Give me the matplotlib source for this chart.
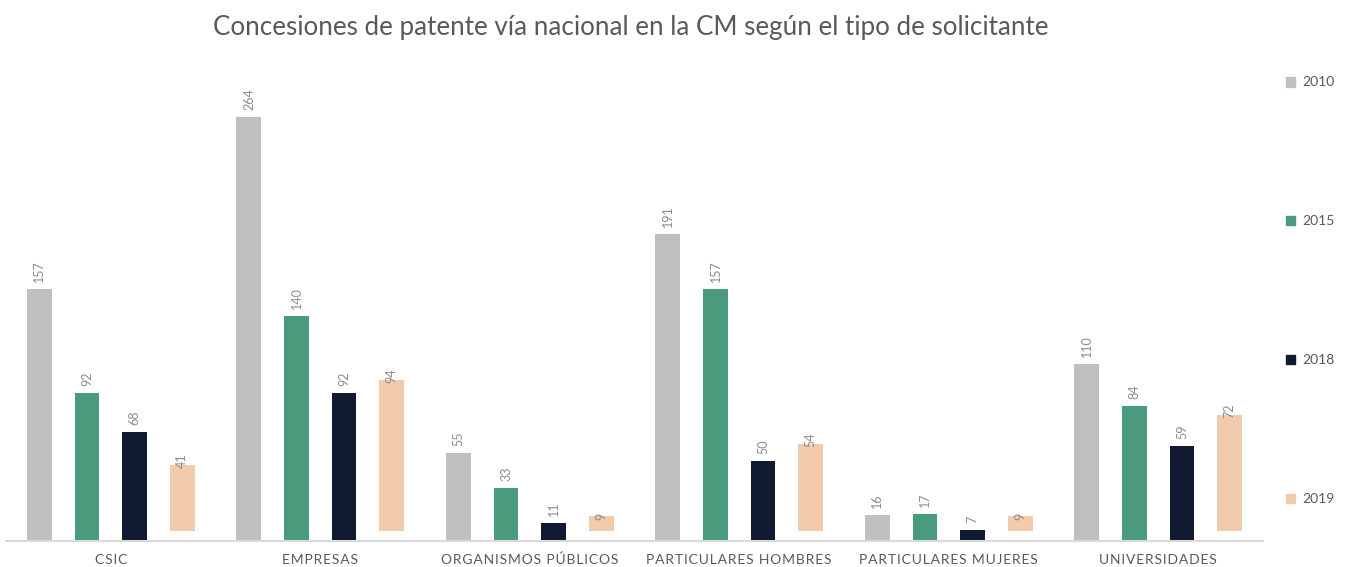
import matplotlib.pyplot as plt
from matplotlib.patches import Patch
import numpy as np

plt.rcParams['font.family'] = ['Lato', 'DejaVu Sans']

categorias = ['CSIC', 'EMPRESAS', 'ORGANISMOS PÚBLICOS', 'PARTICULARES HOMBRES',
              'PARTICULARES MUJERES', 'UNIVERSIDADES']
anios = ['2010', '2015', '2018', '2019']
v2010 = [157, 264, 55, 191, 16, 110]
v2015 = [92, 140, 33, 157, 17, 84]
v2018 = [68, 92, 11, 50, 7, 59]
v2019 = [41, 94, 9, 54, 9, 72]
series = [v2010, v2015, v2018, v2019]
colores = ['#bfbfbf', '#4a9b7b', '#0f1a30', '#f2caac']
# the 2019 bars in the original sit slightly above the axis line
base = [0, 0, 0, 6.5]

fig = plt.figure(figsize=(13.5, 5.67), dpi=100)
ax = fig.add_axes([6 / 1350, 26 / 567, (1263 - 6) / 1350, (541 - 80) / 567])

x = np.arange(len(categorias))
paso = 0.227
ancho = 0.119
for i, (vals, c, b) in enumerate(zip(series, colores, base)):
    pos = x + (i - 1.5) * paso
    ax.bar(pos, vals, width=ancho, color=c, bottom=b, zorder=2)
    for px, v in zip(pos, vals):
        ax.annotate(str(v), (px, v), xytext=(0, 5), textcoords='offset points',
                    rotation=90, ha='center', va='bottom', fontsize=9, color='#8c8c8c')

ax.set_xlim(-0.5, len(categorias) - 0.5)
ax.set_ylim(0, 287)
ax.set_yticks([])
ax.set_xticks(x)
sep = '\u200a'
ax.set_xticklabels([sep.join(list(c)) for c in categorias], fontsize=10, color='#595959')
ax.tick_params(axis='x', length=0, pad=9)
for s in ['top', 'right', 'left']:
    ax.spines[s].set_visible(False)
ax.spines['bottom'].set_color('#d9d9d9')
ax.spines['bottom'].set_linewidth(1.5)

fig.suptitle('Concesiones de patente vía nacional en la CM según el tipo de solicitante',
             x=631 / 1350, y=1 - 27 / 567, va='center', fontsize=18.7, color='#595959')

handles = [Patch(color=c) for c in colores]
fig.legend(handles, anios, loc='upper left', bbox_to_anchor=(1273 / 1350, 1 - 64 / 567),
           frameon=False, fontsize=10, labelcolor='#595959', labelspacing=9.14,
           handlelength=0.7, handleheight=0.7, handletextpad=0.5)

fig.savefig('out.png', dpi=100)
